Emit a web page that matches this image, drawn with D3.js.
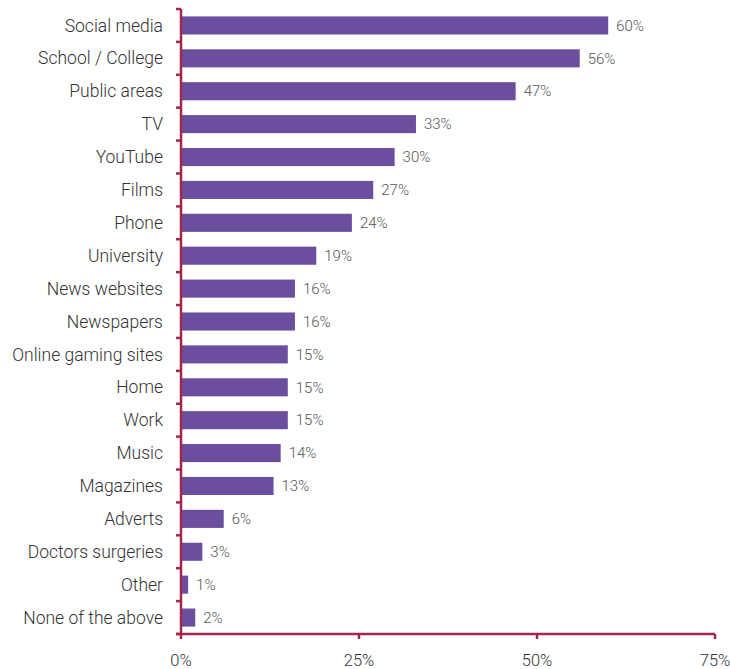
<!DOCTYPE html>
<html>
<head>
<meta charset="utf-8">
<script src="https://cdn.jsdelivr.net/npm/d3@7"></script>
<style>
  html, body { margin: 0; padding: 0; background: #fff; }
  svg text { font-family: Roboto, "Noto Sans", sans-serif; font-weight: 300; }
</style>
</head>
<body>
<svg id="chart" width="730" height="669"></svg>
<script>
const categories = [
  "Social media", "School / College", "Public areas", "TV", "YouTube", "Films",
  "Phone", "University", "News websites", "Newspapers", "Online gaming sites",
  "Home", "Work", "Music", "Magazines", "Adverts", "Doctors surgeries",
  "Other", "None of the above"
];
const values = [60, 56, 47, 33, 30, 27, 24, 19, 16, 16, 15, 15, 15, 14, 13, 6, 3, 1, 2];
const xTicks = [0, 25, 50, 75];

const axisColor = "#a3264b";
const barColor = "#6b4f9e";

const margin = { top: 9, left: 181, right: 15, bottom: 35 };
const width = 730, height = 669;
const svg = d3.select("#chart");

const x = d3.scaleLinear().domain([0, 75]).range([margin.left, width - margin.right]);
const y = d3.scaleBand().domain(categories).range([margin.top, height - margin.bottom]).paddingInner(0.45).paddingOuter(0.225);

// bars
svg.append("g").selectAll("rect").data(categories).join("rect")
  .attr("x", x(0))
  .attr("y", d => y(d))
  .attr("width", (d, i) => x(values[i]) - x(0))
  .attr("height", y.bandwidth())
  .attr("fill", barColor);

// value labels
svg.append("g").selectAll("text").data(categories).join("text")
  .attr("x", (d, i) => x(values[i]) + 8)
  .attr("y", d => y(d) + y.bandwidth() / 2)
  .attr("dy", "0.35em")
  .attr("font-size", 15)
  .attr("fill", "#555")
  .text((d, i) => values[i] + "%");

// y axis: ticks on band boundaries
const yAxisG = svg.append("g");
const bounds = d3.range(categories.length + 1).map(i => margin.top + i * y.step());
yAxisG.append("line")
  .attr("x1", x(0)).attr("x2", x(0))
  .attr("y1", margin.top).attr("y2", height - margin.bottom)
  .attr("stroke", axisColor).attr("stroke-width", 2.5);
yAxisG.selectAll(".yt").data(bounds).join("line")
  .attr("class", "yt")
  .attr("x1", x(0) - 5).attr("x2", x(0))
  .attr("y1", d => d).attr("y2", d => d)
  .attr("stroke", axisColor).attr("stroke-width", 2.5);
yAxisG.selectAll("text").data(categories).join("text")
  .attr("x", x(0) - 18)
  .attr("y", d => y(d) + y.bandwidth() / 2)
  .attr("dy", "0.35em")
  .attr("text-anchor", "end")
  .attr("font-size", 17.5)
  .attr("fill", "#333")
  .text(d => d);

// x axis
const xAxisG = svg.append("g").attr("transform", `translate(0,${height - margin.bottom})`);
xAxisG.append("line")
  .attr("x1", x(0) - 5).attr("x2", x(75))
  .attr("stroke", axisColor).attr("stroke-width", 2.5);
xAxisG.selectAll(".xt").data(xTicks).join("line")
  .attr("class", "xt")
  .attr("x1", d => x(d)).attr("x2", d => x(d))
  .attr("y1", 0).attr("y2", 5)
  .attr("stroke", axisColor).attr("stroke-width", 2.5);
xAxisG.selectAll("text").data(xTicks).join("text")
  .attr("x", d => x(d))
  .attr("y", 26)
  .attr("dy", "0.35em")
  .attr("text-anchor", "middle")
  .attr("font-size", 16.5)
  .attr("fill", "#333")
  .text(d => d + "%");
</script>
</body>
</html>
